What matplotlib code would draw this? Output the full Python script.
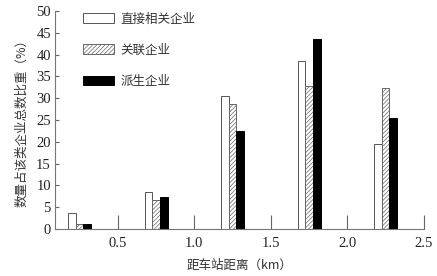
import numpy as np
import matplotlib.pyplot as plt

plt.rcParams['font.family'] = ['Liberation Serif', 'Noto Sans CJK SC']
plt.rcParams['hatch.linewidth'] = 0.5

# data
centers = [0.25, 0.75, 1.25, 1.75, 2.25]
direct = [3.8, 8.4, 30.6, 38.5, 19.4]       # 直接相关企业
related = [1.1, 6.6, 28.6, 32.7, 32.3]      # 关联企业
derived = [1.1, 7.3, 22.4, 43.7, 25.5]      # 派生企业
xticks = [0.5, 1.0, 1.5, 2.0, 2.5]
yticks = list(range(0, 51, 5))

fig = plt.figure(figsize=(4.37, 2.76), dpi=100)
ax = fig.add_axes([0.126, 0.170, 0.844, 0.790])

x = np.array(centers)
w = 0.05
ax.bar(x - w, direct, w, color='white', edgecolor='#555555', linewidth=0.7, label='直接相关企业')
ax.bar(x, related, w, color='white', edgecolor='#666666', hatch='////////', linewidth=0.7, label='关联企业')
ax.bar(x + w, derived, w, color='black', edgecolor='black', linewidth=0.7, label='派生企业')

ax.set_xlim(0.09, 2.5)
ax.set_ylim(0, 50)
ax.set_xticks(xticks)
ax.set_xticklabels(['0.5', '1.0', '1.5', '2.0', '2.5'])
ax.set_yticks(yticks)
ax.tick_params(axis='x', direction='in', length=10, width=0.8, colors='#666666', labelcolor='#222222', labelsize=10.5, pad=6)
ax.tick_params(axis='y', direction='in', length=3, width=0.8, colors='#666666', labelcolor='#222222', labelsize=10.5, pad=3)

for s in ['top', 'right']:
    ax.spines[s].set_visible(False)
for s in ['left', 'bottom']:
    ax.spines[s].set_color('#777777')
    ax.spines[s].set_linewidth(0.8)

ax.set_xlabel('距车站距离（km）', fontsize=9, color='#333333', labelpad=6,
              family=['Noto Sans CJK SC', 'Liberation Serif'])
ax.set_ylabel('数量占该类企业总数比重（%）', fontsize=9, color='#333333', labelpad=6,
              family=['Noto Sans CJK SC', 'Liberation Serif'])

leg = ax.legend(loc='upper left', bbox_to_anchor=(0.045, 1.045), frameon=False,
                handlelength=2.5, handleheight=0.8, labelspacing=1.45, handletextpad=0.5,
                prop={'family': 'Noto Sans CJK SC', 'size': 9})
for t in leg.get_texts():
    t.set_color('#333333')

fig.savefig('out.png', dpi=100)
